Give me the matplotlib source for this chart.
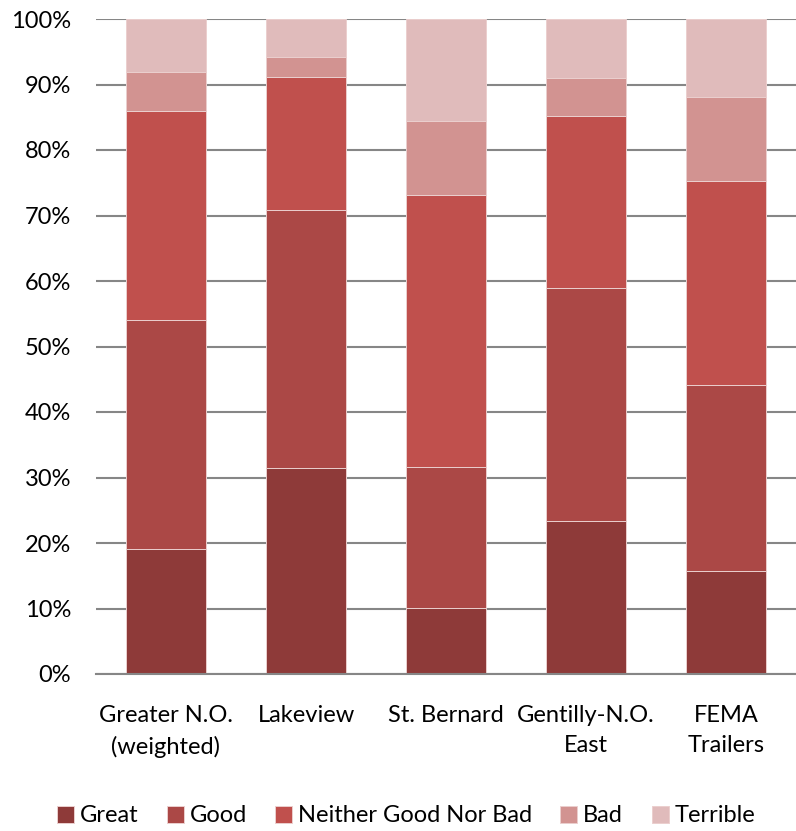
import matplotlib.pyplot as plt
import numpy as np

plt.rcParams['font.family'] = ['Lato', 'DejaVu Sans']

categories = ["Greater N.O.\n(weighted)", "Lakeview", "St. Bernard",
              "Gentilly-N.O.\nEast", "FEMA\nTrailers"]
great = [19.1, 31.5, 10.1, 23.4, 15.7]
good = [34.9, 39.3, 21.5, 35.5, 28.4]
neither = [32.0, 20.3, 41.5, 26.3, 31.2]
bad = [5.9, 3.1, 11.3, 5.8, 12.8]
terrible = [8.1, 5.8, 15.6, 9.0, 11.9]

series = ["Great", "Good", "Neither Good Nor Bad", "Bad", "Terrible"]
colors = ["#8E3A39", "#AB4846", "#C0504D", "#D29391", "#E0BBBB"]

fig = plt.figure(figsize=(7.96, 8.31), dpi=100)
ax = fig.add_axes([96 / 796, 1 - 674 / 831, 700 / 796, 655 / 831])

x = np.arange(len(categories))
bottom = np.zeros(len(categories))
for name, vals, c in zip(series, [great, good, neither, bad, terrible], colors):
    ax.bar(x, vals, 0.57, bottom=bottom, color=c, label=name,
           edgecolor="#EBCFCE", linewidth=0.7, zorder=3)
    bottom += np.array(vals)

ax.set_xlim(-0.5, 4.5)
ax.set_ylim(0, 100)
ax.set_yticks(range(0, 101, 10))
ax.set_yticklabels([f"{v}%" for v in range(0, 101, 10)])
ax.set_xticks(x)
ax.set_xticklabels(categories, linespacing=1.55)
ax.yaxis.grid(True, color="#868686", linewidth=1.5, zorder=0)
ax.tick_params(axis="both", length=0, labelsize=17, colors="#000000")
ax.tick_params(axis="y", pad=18)
ax.tick_params(axis="x", pad=22)
for s in ["top", "right", "left"]:
    ax.spines[s].set_visible(False)
ax.spines["bottom"].set_color("#868686")
ax.spines["bottom"].set_linewidth(1.5)
ax.spines["bottom"].set_zorder(4)

fig.legend(loc="center", bbox_to_anchor=(0.51, 1 - 816 / 831), ncol=5,
           frameon=False, fontsize=17, handlelength=0.72, handleheight=0.72,
           handletextpad=0.25, columnspacing=1.2)

fig.savefig("out.png", dpi=100)
